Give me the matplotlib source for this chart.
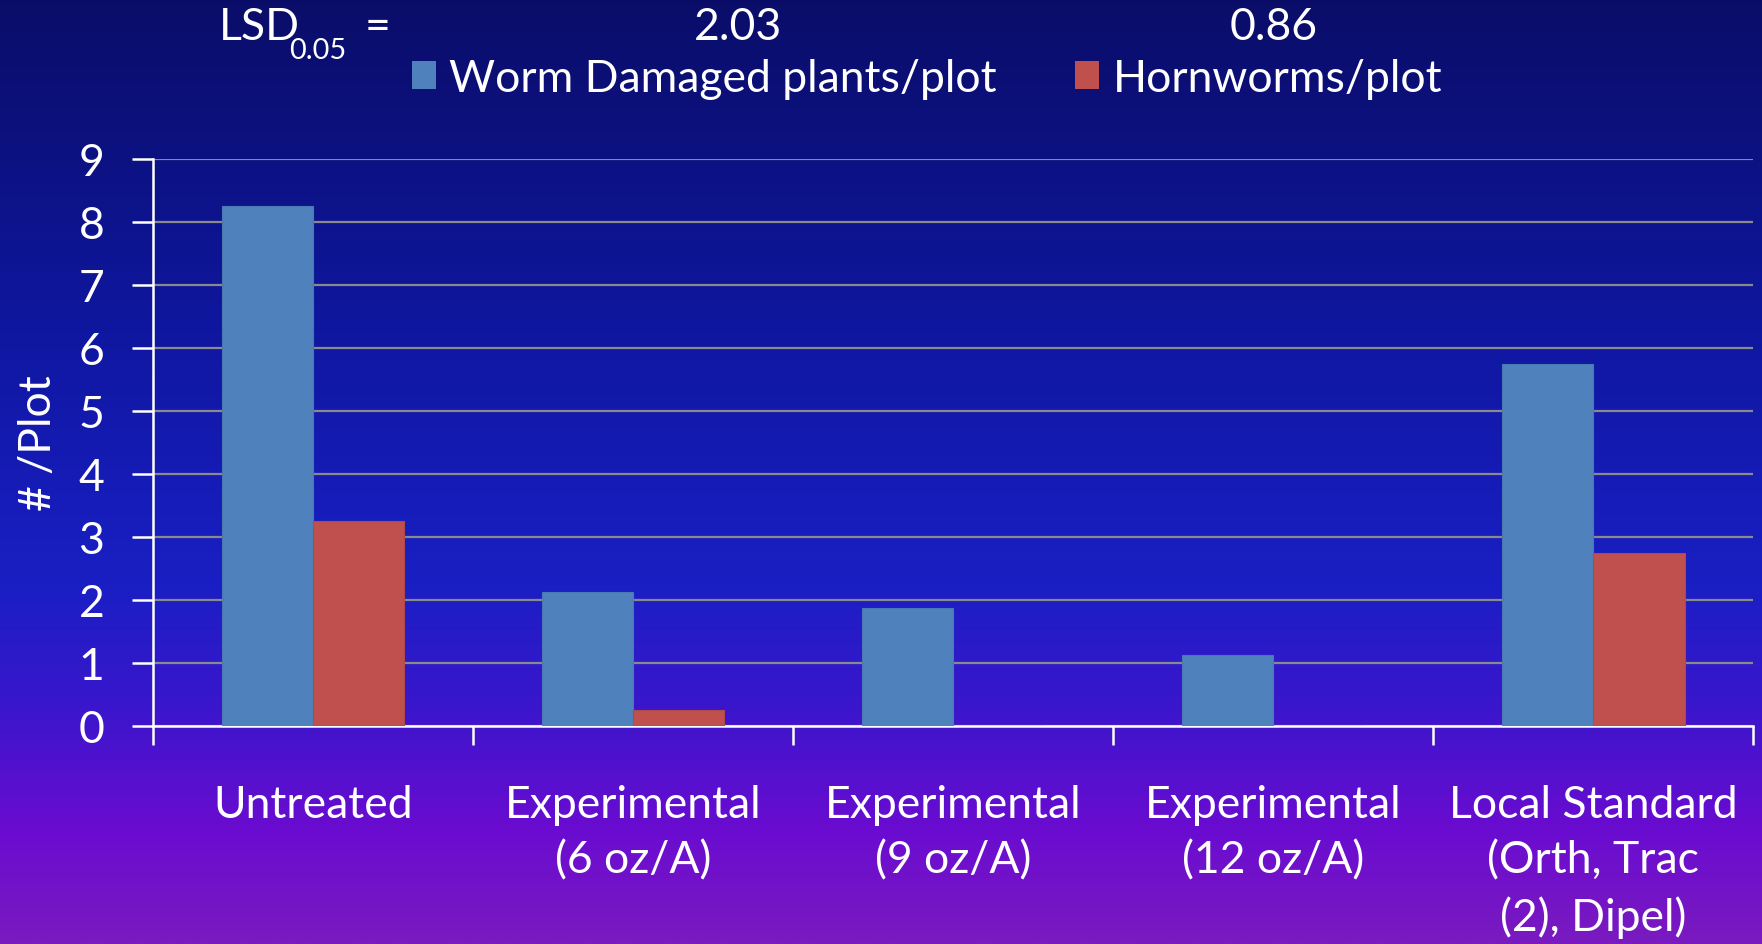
import numpy as np
import matplotlib
matplotlib.use('Agg')
import matplotlib.pyplot as plt
from matplotlib.colors import LinearSegmentedColormap
from matplotlib.patches import Patch

# data
categories = ['Untreated', 'Experimental\n(6 oz/A)', 'Experimental\n(9 oz/A)',
              'Experimental\n(12 oz/A)', 'Local Standard\n(Orth, Trac\n(2), Dipel)']
damaged = [8.25, 2.12, 1.87, 1.12, 5.75]
hornworms = [3.25, 0.25, 0.0, 0.0, 2.75]
series_names = ['Worm Damaged plants/plot', 'Hornworms/plot']
lsd_values = ['2.03', '0.86']
y_ticks = list(range(0, 10))

plt.rcParams['font.family'] = ['Lato', 'DejaVu Sans']

BLUE = '#4F81BD'
RED = '#C0504D'
FS = 32

fig = plt.figure(figsize=(17.62, 9.45), dpi=100)

# gradient background
bg = fig.add_axes([0, 0, 1, 1], zorder=-10)
grad_cmap = LinearSegmentedColormap.from_list('bg', [
    (0.00, '#0a0d68'),
    (0.35, '#0f17a0'),
    (0.62, '#1a1fc4'),
    (0.75, '#3a16cc'),
    (0.88, '#6a0cd0'),
    (1.00, '#7a1ac0'),
])
bg.imshow(np.linspace(0, 1, 512).reshape(-1, 1), cmap=grad_cmap, aspect='auto',
          extent=[0, 1, 0, 1], origin='upper')
bg.axis('off')

ax = fig.add_axes([0.0868, 0.2307, 0.9082, 0.6])
ax.set_facecolor('none')

x = np.arange(len(categories))
w = 1 / 3.5
ax.bar(x - w / 2, damaged, w, color=BLUE, edgecolor='#4a78b0', linewidth=0.8, zorder=3)
ax.bar(x + w / 2, hornworms, w, color=RED, edgecolor='#b04a48', linewidth=0.8, zorder=3)

ax.set_xlim(-0.5, len(categories) - 0.5)
ax.set_ylim(0, 9)
ax.set_yticks(y_ticks)
ax.set_yticklabels([str(t) for t in y_ticks], fontsize=FS, color='white')
ax.yaxis.grid(True, color='#8a8a8a', linewidth=1.6, zorder=1)
ax.set_axisbelow(True)

# category boundaries as major ticks, labels on minor ticks
ax.set_xticks(np.arange(-0.5, len(categories), 1.0))
ax.set_xticklabels([])
ax.set_xticks(x, minor=True)
ax.set_xticklabels(categories, minor=True, fontsize=FS, color='white',
                   linespacing=1.42, va='top')
ax.tick_params(axis='x', which='minor', length=0, pad=42)
ax.tick_params(axis='x', which='major', length=14, width=1.8, color='white')
ax.tick_params(axis='y', length=15, width=1.8, color='white', pad=20)

for s in ['top', 'right']:
    ax.spines[s].set_visible(False)
for s in ['left', 'bottom']:
    ax.spines[s].set_color('white')
    ax.spines[s].set_linewidth(1.8)

ax.set_ylabel('# /Plot', fontsize=FS, color='white', labelpad=14)

# legend
handles = [Patch(facecolor=BLUE), Patch(facecolor=RED)]
fig.legend(handles, series_names, loc='center', bbox_to_anchor=(0.526, 0.916),
           ncol=2, frameon=False, fontsize=FS, labelcolor='white',
           handlelength=0.55, handleheight=0.6, handletextpad=0.3, columnspacing=1.75)

# LSD row
fig.text(0.124, 0.971, 'LSD', fontsize=FS, color='white', ha='left', va='center')
fig.text(0.164, 0.946, '0.05', fontsize=FS * 0.65, color='white', ha='left', va='center')
fig.text(0.207, 0.971, '=', fontsize=FS, color='white', ha='left', va='center')
fig.text(0.419, 0.971, lsd_values[0], fontsize=FS, color='white', ha='center', va='center')
fig.text(0.723, 0.971, lsd_values[1], fontsize=FS, color='white', ha='center', va='center')

fig.savefig('out.png', dpi=100)
